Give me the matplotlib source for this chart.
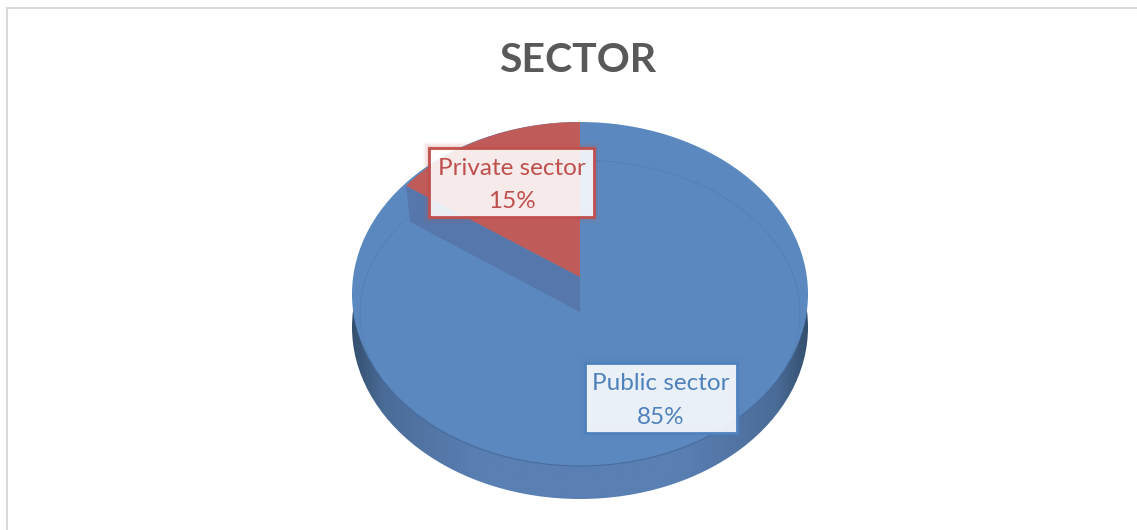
import matplotlib
matplotlib.use('Agg')
import matplotlib.pyplot as plt
import numpy as np
from matplotlib.patches import Arc, Ellipse, Polygon, Rectangle
from matplotlib.transforms import Affine2D

# Data
categories = ['Private sector', 'Public sector']
shares = [15, 85]
title = 'SECTOR'

colors = {'Private sector': '#bf5c5a', 'Public sector': '#5b89bf'}
label_colors = {'Private sector': '#c0504d', 'Public sector': '#4f81bd'}
# label boxes: left, top, width, height in pixels
boxes = {'Private sector': (429, 148, 165, 69), 'Public sector': (585, 363, 152, 70)}

plt.rcParams['font.family'] = ['Lato', 'DejaVu Sans']

fig = plt.figure(figsize=(11.37, 5.30), dpi=100)
ax = fig.add_axes([0, 0, 1, 1])
ax.set_xlim(0, 1137)
ax.set_ylim(530, 0)
ax.axis('off')

# chart frame, only top and left show
ax.plot([6.5, 6.5, 1137], [530, 7.5, 7.5], color='#d9d9d9', lw=1.5)

ax.text(578, 60, title, ha='center', va='center', fontsize=29.5, fontweight='bold', color='#595959')

cx, cy, rx, ry = 580, 294, 228, 172
depth = 33

# side of the disc, dark at both ends
side = Ellipse((cx, cy + depth), 2 * rx, 2 * ry, fc='none', ec='none')
ax.add_patch(side)
ramp = np.interp(np.linspace(0, 1, 300), [0, 0.07, 0.28, 0.72, 0.93, 1], [0, 0.6, 1, 1, 0.6, 0])
ramp_img = np.zeros((1, 300, 3))
dark = np.array(matplotlib.colors.to_rgb('#34506f'))
mid = np.array(matplotlib.colors.to_rgb('#5a7fb3'))
for k in range(300):
    ramp_img[0, k] = dark + (mid - dark) * ramp[k]
im = ax.imshow(ramp_img, extent=[cx - rx, cx + rx, cy + depth + ry, cy], aspect='auto', zorder=1)
im.set_clip_path(side)
ax.set_xlim(0, 1137)
ax.set_ylim(530, 0)

# top face, the rim only shows along the lower half
ax.add_patch(Ellipse((cx, cy), 2 * rx, 2 * ry, fc=colors['Public sector'], ec='none', zorder=2))
ax.add_patch(Arc((cx, cy), 2 * rx, 2 * ry, theta1=10, theta2=170, ec='#3f5f8c', lw=0.7, alpha=0.6, zorder=2.2))

# faint bevel line inside the top face
bevel = Ellipse((cx, 313), 2 * 220, 2 * 153, fc='none', ec='#4c74a8', lw=0.7, alpha=0.45, zorder=2.1)
ax.add_patch(bevel)

# the slices from the shares, squashed onto the tilted disc
wedges, _ = ax.pie(shares, startangle=90, counterclock=True, colors=[colors[c] for c in categories],
                   center=(0, 0), radius=1, frame=True)
ax.axis('off')
ax.set_aspect('auto')
ax.set_xlim(0, 1137)
ax.set_ylim(530, 0)
wedges[1].set_visible(False)
apex_x, apex_y, slice_rx, slice_ry = 580, 277, 215, 155
wedges[0].set_transform(Affine2D().scale(slice_rx, -slice_ry).translate(apex_x, apex_y) + ax.transData)
wedges[0].set_zorder(4)
wedges[0].set_edgecolor('none')

# inner wall of the gap the slice leaves
end_angle = np.deg2rad(90 + 360 * shares[0] / sum(shares))
tip_x = apex_x + slice_rx * np.cos(end_angle)
tip_y = apex_y - slice_ry * np.sin(end_angle)
ax.add_patch(Polygon([(tip_x, tip_y), (tip_x + 4, tip_y + 36), (apex_x, apex_y + 35), (apex_x, apex_y)],
                     fc='#5577ab', ec='none', zorder=3))

# labels
for cat, share in zip(categories, shares):
    x, y, w, h = boxes[cat]
    for grow, a in zip([9, 6, 3], [0.05, 0.08, 0.12]):
        ax.add_patch(Rectangle((x, y), w, h, fill=False, ec=label_colors[cat], lw=grow, alpha=a, zorder=5))
    ax.add_patch(Rectangle((x, y), w, h, fc='white', ec='none', alpha=0.88, zorder=6))
    ax.add_patch(Rectangle((x, y), w, h, fill=False, ec=label_colors[cat], lw=2, zorder=7))
    ax.text(x + w / 2, y + h * 0.30, cat, ha='center', va='center', fontsize=17.5, color=label_colors[cat], zorder=8)
    ax.text(x + w / 2, y + h * 0.78, f'{share}%', ha='center', va='center', fontsize=17.5, color=label_colors[cat], zorder=8)

fig.savefig('out.png', dpi=100)
